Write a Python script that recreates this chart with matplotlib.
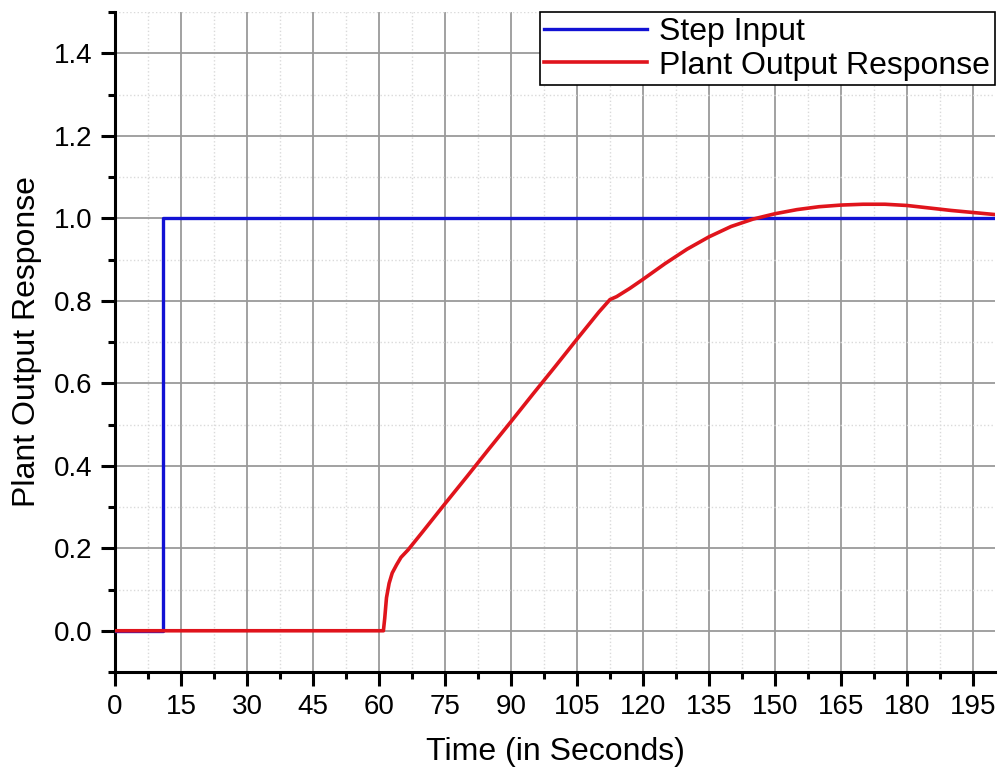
import matplotlib
matplotlib.use("Agg")
from matplotlib import pyplot
from matplotlib.ticker import MultipleLocator, FormatStrFormatter

pyplot.rcParams['font.family'] = ['Liberation Sans', 'DejaVu Sans']

# step input: 0 until t=11 s, then 1
step_t = [0, 11, 11, 200]
step_y = [0, 0, 1.0, 1.0]

# plant output response read from the simulation
resp_t = [0, 61, 61.3, 61.7, 62.3, 63, 64, 65, 66.6, 70, 75, 80, 85, 90, 95,
          100, 105, 110, 112.5, 114, 117, 120, 125, 130, 135, 140, 145, 150,
          155, 160, 165, 170, 175, 180, 185, 190, 195, 200]
resp_y = [0, 0, 0.03, 0.08, 0.115, 0.14, 0.16, 0.178, 0.196, 0.241, 0.308,
          0.374, 0.441, 0.507, 0.574, 0.640, 0.707, 0.773, 0.803, 0.810,
          0.830, 0.852, 0.890, 0.925, 0.955, 0.980, 0.998, 1.011, 1.021,
          1.028, 1.032, 1.034, 1.034, 1.031, 1.025, 1.019, 1.014, 1.009]

fig = pyplot.figure(figsize=(10, 7.71), dpi=100)
ax = fig.add_axes([0.115, 0.1284, 0.88, 0.856])

ax.plot(step_t, step_y, color='#1212d4', linewidth=2.4, label='Step Input', zorder=3)
ax.plot(resp_t, resp_y, color='#e0141c', linewidth=2.6, label='Plant Output Response', zorder=4)

ax.set_xlim(0, 200)
ax.set_ylim(-0.1, 1.5)
ax.xaxis.set_major_locator(MultipleLocator(15))
ax.xaxis.set_minor_locator(MultipleLocator(7.5))
ax.yaxis.set_major_locator(MultipleLocator(0.2))
ax.yaxis.set_minor_locator(MultipleLocator(0.1))
ax.yaxis.set_major_formatter(FormatStrFormatter('%.1f'))
ax.set_yticks([0.0, 0.2, 0.4, 0.6, 0.8, 1.0, 1.2, 1.4])

ax.grid(which='major', color='#9a9a9a', linewidth=1.3, zorder=0)
ax.grid(which='minor', color='#dadada', linewidth=1, linestyle=':', zorder=0)
ax.set_axisbelow(True)

ax.spines['top'].set_visible(False)
ax.spines['right'].set_visible(False)
ax.spines['left'].set_linewidth(2.2)
ax.spines['bottom'].set_linewidth(2.2)

ax.tick_params(which='major', direction='out', length=10, width=2.2, labelsize=20, pad=6)
ax.tick_params(which='minor', direction='out', length=5, width=2.2)

ax.set_xlabel('Time (in Seconds)', fontsize=23, labelpad=12)
ax.set_ylabel('Plant Output Response', fontsize=23, labelpad=9)

leg = ax.legend(loc='upper right', bbox_to_anchor=(1.0, 1.0), fontsize=23,
                frameon=True, fancybox=False, framealpha=1, edgecolor='black',
                handlelength=3.2, handletextpad=0.4, borderpad=0.15, labelspacing=0.12,
                borderaxespad=0)
leg.get_frame().set_linewidth(1.2)

pyplot.savefig('out.png', dpi=100)
